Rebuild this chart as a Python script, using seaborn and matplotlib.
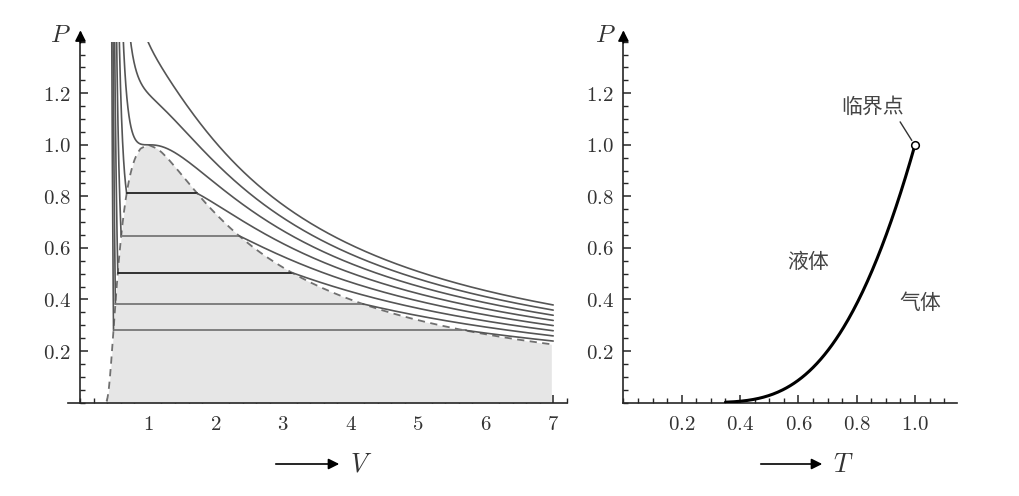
import numpy as np
import pandas as pd
import seaborn as sns
import matplotlib
matplotlib.use("Agg")
import matplotlib.pyplot as plt
from matplotlib.ticker import MultipleLocator

# isotherm temperatures (reduced units)
temperaturas = [0.75, 0.80, 0.85, 0.90, 0.95, 1.00, 1.05, 1.10]
t_bifasico = [0.75, 0.80, 0.85, 0.90, 0.95]
p_bifasico = [0.28, 0.383, 0.504, 0.647, 0.812]

ticks_v = [1, 2, 3, 4, 5, 6, 7]
ticks_p = [0.2, 0.4, 0.6, 0.8, 1.0, 1.2]
ticks_t = [0.2, 0.4, 0.6, 0.8, 1.0]

rotulo_critico = "临界点"
rotulo_liquido = "液体"
rotulo_gas = "气体"


def p_vdw(v, t):
    # reduced van der Waals equation
    return 8 * t / (3 * v - 1) - 3 / v ** 2


def raizes(t, p):
    r = np.roots([3 * p, -(p + 8 * t), 9, -3])
    r = np.sort(r[np.abs(r.imag) < 1e-9].real)
    return r[r > 1 / 3]


def maxwell(t):
    # equal-area rule -> saturation pressure, liquid and gas volume
    vv = np.linspace(0.35, 30, 20000)
    pp = p_vdw(vv, t)
    dp = np.diff(pp)
    i_min = np.where((dp[:-1] < 0) & (dp[1:] > 0))[0][0] + 1
    i_max = np.where((dp[:-1] > 0) & (dp[1:] < 0))[0][0] + 1
    lo, hi = np.log(max(pp[i_min], 1e-14)), np.log(pp[i_max])
    for _ in range(80):
        lp = 0.5 * (lo + hi)
        p = np.exp(lp)
        r = raizes(t, p)
        vl, vg = r[0], r[-1]
        f = (8 * t / 3) * (np.log(3 * vg - 1) - np.log(3 * vl - 1)) + 3 / vg - 3 / vl - p * (vg - vl)
        if f > 0:
            lo = lp
        else:
            hi = lp
    return p, vl, vg


sns.set_style("ticks")
plt.rcParams["mathtext.fontset"] = "cm"
plt.rcParams["font.family"] = ["DejaVu Serif"]

fig = plt.figure(figsize=(10.2, 4.96), dpi=100)
ax1 = fig.add_axes([68.3 / 1020, 1 - 402.6 / 496, 498.4 / 1020, 360.9 / 496])
ax2 = fig.add_axes([623.4 / 1020, 1 - 402.6 / 496, 333.3 / 1020, 360.9 / 496])

cinza = "#555555"

# ---- coexistence curve (binodal)
t_bin = np.linspace(0.40, 0.99999, 160)
res = np.array([maxwell(t) for t in t_bin])
v_bin = np.concatenate([res[:, 1], [1.0], res[::-1, 2]])
p_bin = np.concatenate([res[:, 0], [1.0], res[::-1, 0]])
m = v_bin <= 7
df_bin = pd.DataFrame({"V": v_bin[m], "P": p_bin[m]})
ax1.fill_between(df_bin["V"], df_bin["P"], 0, color="#e6e6e6", lw=0, zorder=1)
sns.lineplot(data=df_bin, x="V", y="P", ax=ax1, sort=False, estimator=None,
             color="#707070", lw=1.3, dashes=False, zorder=3).lines[-1].set_dashes((4, 3))

# ---- isotherms
cores_linha = {0.75: "#777777", 0.80: "#777777", 0.85: "#222222", 0.90: "#777777", 0.95: "#222222"}
for t in temperaturas:
    if t in t_bifasico:
        p = p_bifasico[t_bifasico.index(t)]
        r = raizes(t, p)
        vl, vg = r[0], r[-1]
        v_liq = np.linspace(0.36, vl, 300)
        v_gas = np.linspace(vg, 7, 300)
        sns.lineplot(x=v_liq, y=p_vdw(v_liq, t), ax=ax1, sort=False, estimator=None,
                     color=cinza, lw=1.2, zorder=4)
        sns.lineplot(x=[vl, vg], y=[p, p], ax=ax1, sort=False, estimator=None,
                     color=cores_linha[t], lw=1.3, zorder=4)
        sns.lineplot(x=v_gas, y=p_vdw(v_gas, t), ax=ax1, sort=False, estimator=None,
                     color=cinza, lw=1.2, zorder=4)
    else:
        v = np.concatenate([np.linspace(0.36, 1.5, 600), np.linspace(1.5, 7, 300)])
        sns.lineplot(x=v, y=p_vdw(v, t), ax=ax1, sort=False, estimator=None,
                     color=cinza, lw=1.2, zorder=4)

# ---- vapour pressure curve
t_vap = np.linspace(0.35, 0.99999, 200)
p_vap = np.array([maxwell(t)[0] for t in t_vap])
t_vap = np.append(t_vap, 1.0)
p_vap = np.append(p_vap, 1.0)
sns.lineplot(x=t_vap, y=p_vap, ax=ax2, sort=False, estimator=None, color="black", lw=2.2, zorder=4)
ax2.plot([1.0], [1.0], marker="o", ms=5.5, mfc="white", mec="black", mew=1.1, zorder=6, clip_on=False)
ax2.plot([0.949, 0.989], [1.089, 1.017], color="#333333", lw=1.0, zorder=5)

cjk = ["Noto Sans CJK SC", "DejaVu Sans"]
ax2.text(0.853, 1.146, rotulo_critico, family=cjk, fontsize=15, color="#444444", ha="center", va="center")
ax2.text(0.633, 0.545, rotulo_liquido, family=cjk, fontsize=15, color="#444444", ha="center", va="center")
ax2.text(1.017, 0.386, rotulo_gas, family=cjk, fontsize=15, color="#444444", ha="center", va="center")

# ---- axes styling
def estilo(ax, xlim, xt, xminor, yl_x):
    ax.set_xlim(*xlim)
    ax.set_ylim(0, 1.4)
    for s in ["top", "right"]:
        ax.spines[s].set_visible(False)
    ax.spines["left"].set_position(("data", 0))
    ax.spines["left"].set_linewidth(1.2)
    ax.spines["bottom"].set_linewidth(1.2)
    ax.set_xticks(xt)
    ax.set_xticklabels([f"${x:g}$" if isinstance(x, int) else f"${x:.1f}$" for x in xt])
    ax.set_yticks(ticks_p)
    ax.set_yticklabels([f"${y:.1f}$" for y in ticks_p])
    ax.xaxis.set_minor_locator(MultipleLocator(xminor))
    ax.yaxis.set_minor_locator(MultipleLocator(0.05))
    ax.tick_params(which="major", direction="in", length=6, width=1.1, labelsize=15,
                   labelcolor="#333333")
    ax.tick_params(which="minor", direction="in", length=3.5, width=1.0)
    ax.tick_params(axis="x", pad=9)
    ax.tick_params(axis="y", pad=7)
    ax.set_xlabel("")
    ax.set_ylabel("")
    ax.annotate("", xy=(0, 1.455), xytext=(0, 1.385),
                arrowprops=dict(arrowstyle="-|>", color="black", lw=1.2, mutation_scale=16),
                annotation_clip=False)
    ax.text(yl_x, 1.425, "$P$", fontsize=18, ha="center", va="center", color="#333333")


estilo(ax1, (-0.18, 7.2), ticks_v, 0.2, -0.30)
estilo(ax2, (0, 1.143), ticks_t, 0.05, -0.063)

# axis labels with arrows
for x0, x1, lab in [(273, 342, "$V$"), (758, 825, "$T$")]:
    fig.add_artist(matplotlib.patches.FancyArrowPatch(
        (x0 / 1020, 1 - 464 / 496), (x1 / 1020, 1 - 464 / 496),
        transform=fig.transFigure, arrowstyle="-|>", mutation_scale=16, color="black", lw=1.2))
    fig.text((x1 + 8) / 1020, 1 - 464 / 496, lab, fontsize=19, ha="left", va="center", color="#333333")

fig.savefig("out.png", dpi=100)
